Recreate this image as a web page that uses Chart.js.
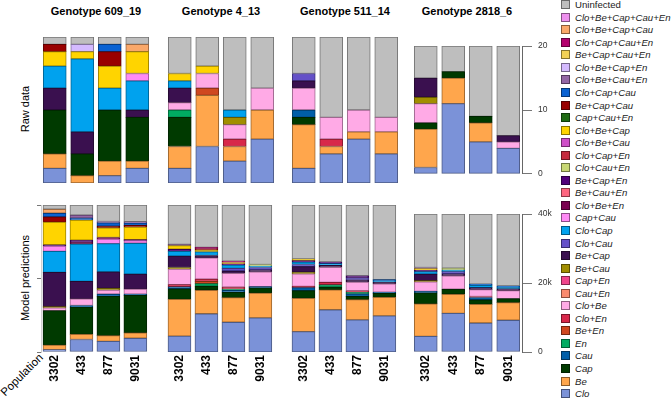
<!DOCTYPE html>
<html>
<head>
<meta charset="UTF-8">
<title>Raw data and model predictions</title>
<script src="https://cdn.jsdelivr.net/npm/chart.js"></script>
<style>
  body { margin: 0; background: #fff; font-family: 'Liberation Sans', Arial, sans-serif; }
  #wrap { position: relative; width: 671px; height: 398px; overflow: hidden; }
  #wrap canvas { position: absolute; }
  .title { position: absolute; top: 5px; width: 110px; text-align: center; font-weight: bold; font-size: 11px; line-height: 13px; white-space: nowrap; color: #000; }
  .rowlab { position: absolute; font-size: 11px; line-height: 13px; white-space: nowrap; color: #000; transform: translate(-50%, -50%) rotate(-90deg); }
  #pop { position: absolute; left: 22px; top: 375px; font-size: 11.5px; line-height: 13px; white-space: nowrap; transform: translate(-50%, -50%) rotate(-45deg); }
  #legend { position: absolute; left: 561px; top: -1.6px; }
  .item { height: 12.55px; display: flex; align-items: center; font-size: 9.6px; font-style: italic; white-space: nowrap; color: #222; }
  .item.plain { font-style: normal; }
  .sw { width: 7px; height: 7px; border: 1px solid; margin-right: 5px; flex: none; }
</style>
</head>
<body>
<div id="wrap">
  <div class="rowlab" style="left:25px; top:109px;">Raw data</div>
  <div class="rowlab" style="left:25px; top:278px;">Model predictions</div>
  <div id="pop">Population</div>
  <div id="legend"></div>
</div>

<script>
  // ---- data ----
  const genotypes = ['Genotype 609_19', 'Genotype 4_13', 'Genotype 511_14', 'Genotype 2818_6'];
  const populations = ['3302', '433', '877', '9031'];

  // legend order (top to bottom); bars stack in the reverse order
  const categories = [
    'Uninfected', 'Clo+Be+Cap+Cau+En', 'Clo+Be+Cap+Cau', 'Clo+Cap+Cau+En', 'Be+Cap+Cau+En',
    'Clo+Be+Cap+En', 'Clo+Be+Cau+En', 'Clo+Cap+Cau', 'Be+Cap+Cau', 'Cap+Cau+En',
    'Clo+Be+Cap', 'Clo+Be+Cau', 'Clo+Cap+En', 'Clo+Cau+En', 'Be+Cap+En', 'Be+Cau+En',
    'Clo+Be+En', 'Cap+Cau', 'Clo+Cap', 'Clo+Cau', 'Be+Cap', 'Be+Cau', 'Cap+En', 'Cau+En',
    'Clo+Be', 'Clo+En', 'Be+En', 'En', 'Cau', 'Cap', 'Be', 'Clo'
  ];
  const categoryColors = [
    '#BEBEBE', '#EE90EE', '#FAA86A', '#B4006E', '#F2D256',
    '#D4BAFF', '#9366A6', '#0A62D2', '#990000', '#1F6B14',
    '#FFD400', '#CF4FC8', '#C52A3E', '#C8D874', '#50007A', '#FF6680',
    '#7A0050', '#FF8AF5', '#00A2EE', '#6450C8', '#3A104F', '#A18E00', '#F0458C', '#FA8A6E',
    '#FFAAE6', '#D8284A', '#CF4820', '#00AC62', '#005EA8', '#003A00', '#FFA64C', '#7B92D8'
  ];

  const rawTickValues = [0, 10, 20];
  const rawTickLabels = ['0', '10', '20'];
  const predTickValues = [0, 20000, 40000];
  const predTickLabels = ['0', '20k', '40k'];

  // raw data: infected cells counted per population (out of 20)
  const raw_609_19 = [
    { Clo: 2, Be: 2, Cap: 6, 'Be+Cap': 3, 'Clo+Cap': 3, 'Clo+Be+Cap': 2, 'Be+Cap+Cau': 1, Uninfected: 1 },
    { Be: 1, Cap: 3, 'Be+Cap': 3, 'Clo+Cap': 10, 'Clo+Be+Cap': 1, 'Clo+Be+Cap+En': 1, Uninfected: 1 },
    { Clo: 1, Be: 2, Cap: 7, 'Clo+Cap': 3, 'Clo+Be+Cap': 3, 'Be+Cap+Cau': 2, 'Clo+Cap+Cau': 1, Uninfected: 1 },
    { Clo: 2, Be: 1, Cap: 6, 'Be+Cap': 1, 'Clo+Cap': 4, 'Cap+Cau': 1, 'Clo+Be+Cap': 3, 'Clo+Be+Cap+Cau': 1, Uninfected: 1 }
  ];
  const raw_4_13 = [
    { Clo: 2, Be: 3, Cap: 4, En: 1, 'Clo+Be': 1, 'Be+Cap': 2, 'Clo+Cap': 1, 'Clo+Be+Cap': 1, Uninfected: 5 },
    { Clo: 5, Be: 7, 'Be+En': 1, 'Clo+Be': 2, 'Clo+Be+Cap': 1, Uninfected: 4 },
    { Clo: 3, Be: 2, 'Clo+En': 1, 'Clo+Be': 2, 'Be+Cau': 1, 'Clo+Cap': 1, Uninfected: 10 },
    { Clo: 6, Be: 4, 'Clo+Be': 3, Uninfected: 7 }
  ];
  const raw_511_14 = [
    { Clo: 2, Be: 6, Cap: 1, Cau: 1, 'Clo+Be': 3, 'Be+Cap': 1, 'Clo+Cau': 1, Uninfected: 5 },
    { Clo: 4, Be: 1, 'Clo+En': 1, 'Clo+Be': 3, Uninfected: 11 },
    { Clo: 6, Be: 1, 'Clo+Be': 3, Uninfected: 10 },
    { Clo: 4, Be: 3, 'Clo+Be': 2, Uninfected: 11 }
  ];
  const raw_2818_6 = [
    { Clo: 1, Be: 6, Cap: 1, 'Clo+Be': 3, 'Be+Cau': 1, 'Be+Cap': 3, Uninfected: 5 },
    { Clo: 11, Be: 4, Cap: 1, Uninfected: 4 },
    { Clo: 5, Be: 3, Cap: 1, Uninfected: 11 },
    { Clo: 4, 'Clo+Be': 1, 'Be+Cap': 1, Uninfected: 14 }
  ];

  // model predictions (cells)
  const pred_609_19 = [
    { Clo: 650, Be: 1200, Cap: 9400, 'Clo+Be': 800, 'Be+Cau': 300, 'Be+Cap': 9300, 'Clo+Cap': 5750, 'Cap+Cau': 1400,
      'Be+Cap+En': 350, 'Clo+Be+Cap': 6200, 'Be+Cap+Cau': 1400, 'Clo+Cap+Cau': 1000, 'Clo+Be+Cap+Cau': 1100, Uninfected: 1150 },
    { Clo: 3400, Be: 1400, Cap: 7400, Cau: 450, 'Clo+Be': 1800, 'Be+Cap': 4750, 'Clo+Cap': 10200, 'Clo+Be+En': 500,
      'Be+Cap+En': 500, 'Clo+Be+Cap': 5500, 'Clo+Cap+Cau': 550, 'Clo+Be+Cau+En': 800, Uninfected: 2750 },
    { Clo: 2900, Be: 1550, Cap: 10700, Cau: 600, 'Clo+Be': 1100, 'Be+Cau': 450, 'Be+Cap': 4500, 'Clo+Cap': 7700, 'Cap+Cau': 1200,
      'Clo+Be+En': 450, 'Clo+Be+Cap': 2650, 'Be+Cap+Cau': 450, 'Clo+Cap+Cau': 900, 'Clo+Be+Cau+En': 350, Uninfected: 4500 },
    { Clo: 3750, Be: 1450, Cap: 10200, Cau: 350, 'Clo+Be': 1350, 'Be+Cap': 4100, 'Clo+Cap': 8400, 'Cap+Cau': 700,
      'Be+Cap+En': 300, 'Clo+Be+Cap': 3400, 'Be+Cap+Cau': 450, 'Clo+Cap+Cau': 650, 'Clo+Be+Cau+En': 350, Uninfected: 4550 }
  ];
  const pred_4_13 = [
    { Clo: 4300, Be: 10000, Cap: 2900, Cau: 550, 'Clo+En': 600, 'Clo+Be': 4200, 'Be+Cau': 450, 'Be+Cap': 3100, 'Clo+Cap': 1300,
      'Be+Cap+En': 550, 'Clo+Be+Cap': 1000, 'Clo+Be+Cau+En': 350, Uninfected: 10700 },
    { Clo: 10400, Be: 6400, Cap: 1100, En: 700, 'Be+En': 600, 'Clo+En': 650, 'Clo+Be': 5750, 'Be+Cap': 650, 'Clo+Cap': 1000,
      'Be+Cap+Cau': 400, 'Clo+Be+Cap': 450, 'Clo+Cap+Cau+En': 350, Uninfected: 11550 },
    { Clo: 8100, Be: 6700, Cap: 1450, Cau: 550, En: 300, 'Clo+En': 550, 'Clo+Be': 3750, 'Be+Cap': 650, 'Clo+Cau': 700, 'Clo+Cap': 900,
      'Be+Cap+En': 350, 'Clo+Be+Cap': 350, 'Clo+Cap+Cau+En': 350, Uninfected: 15300 },
    { Clo: 9300, Be: 6700, Cap: 1450, Cau: 350, 'Clo+Be': 4000, 'Be+Cap': 550, 'Clo+Cau': 650, 'Clo+Cap': 350,
      'Clo+Cau+En': 450, Uninfected: 16200 }
  ];
  const pred_511_14 = [
    { Clo: 5550, Be: 9050, Cap: 2100, Cau: 800, 'Clo+En': 350, 'Clo+Be': 3400, 'Be+Cau': 450, 'Be+Cap': 1550, 'Clo+Cau': 550,
      'Clo+Cap': 700, 'Be+Cap+En': 350, 'Clo+Be+Cap': 450, Uninfected: 14700 },
    { Clo: 11500, Be: 5400, Cap: 750, En: 650, 'Clo+En': 650, 'Clo+Be': 4100, 'Be+Cap': 550, 'Clo+Cap': 450,
      'Be+Cap+En': 450, Uninfected: 15500 },
    { Clo: 8750, Be: 5500, Cap: 900, Cau: 650, En: 500, 'Clo+En': 350, 'Clo+Be': 2400, 'Be+Cap': 550, 'Clo+Cau': 550,
      'Be+Cap+En': 550, Uninfected: 19300 },
    { Clo: 9850, Be: 5000, Cap: 1100, Cau: 300, 'Clo+Be': 2300, 'Be+Cap': 450, 'Clo+Cap': 350, 'Clo+Cap+Cau': 350, Uninfected: 20300 }
  ];
  const pred_2818_6 = [
    { Clo: 4550, Be: 9400, Cap: 3200, Cau: 450, 'Clo+Be': 2750, 'Be+Cau': 350, 'Be+Cap': 1900, 'Clo+Cap': 700,
      'Be+Cap+En': 450, 'Clo+Be+Cap': 450, 'Clo+Be+Cau+En': 300, Uninfected: 15500 },
    { Clo: 11200, Be: 5550, Cap: 1450, 'Clo+Be': 3900, 'Be+Cap': 550, 'Clo+Cau': 650, 'Clo+Cap': 450,
      'Clo+Cau+En': 550, Uninfected: 15700 },
    { Clo: 8400, Be: 5400, Cap: 1350, Cau: 650, 'Clo+En': 300, 'Clo+Be': 2000, 'Be+Cap': 550, 'Clo+Cap': 700,
      'Clo+Cap+Cau': 350, Uninfected: 20300 },
    { Clo: 9200, Be: 5100, Cap: 1200, 'Clo+Be': 2300, 'Be+Cap': 550, 'Clo+Cap': 450, 'Clo+Cap+Cau': 350, Uninfected: 20850 }
  ];

  const rawData = [raw_609_19, raw_4_13, raw_511_14, raw_2818_6];
  const predData = [pred_609_19, pred_4_13, pred_511_14, pred_2818_6];

  // ---- layout ----
  const wrap = document.getElementById('wrap');
  const panelLeft = [41, 166, 290, 412];
  const panelW = 110;
  const FONT = "'Liberation Sans', Arial, sans-serif";

  function darker(hex, f) {
    const n = parseInt(hex.slice(1), 16);
    const r = Math.round(((n >> 16) & 255) * f);
    const g = Math.round(((n >> 8) & 255) * f);
    const b = Math.round((n & 255) * f);
    return `rgb(${r},${g},${b})`;
  }

  const colorOf = {};
  categories.forEach((c, i) => colorOf[c] = categoryColors[i]);
  const stackOrder = categories.slice().reverse(); // first dataset = bottom of the bar

  // titles
  genotypes.forEach((g, i) => {
    const d = document.createElement('div');
    d.className = 'title';
    d.style.left = panelLeft[i] + 'px';
    d.textContent = g;
    wrap.appendChild(d);
  });

  // legend
  const legend = document.getElementById('legend');
  categories.forEach((c, i) => {
    const it = document.createElement('div');
    it.className = 'item' + (c === 'Uninfected' ? ' plain' : '');
    const sw = document.createElement('span');
    sw.className = 'sw';
    sw.style.background = categoryColors[i];
    sw.style.borderColor = darker(categoryColors[i], 0.55);
    it.appendChild(sw);
    it.appendChild(document.createTextNode(c));
    legend.appendChild(it);
  });

  function makePanel(row, col, bars) {
    const bottom = row === 1;
    const pad = 2;
    const areaTop = bottom ? 205 : 37;
    const areaH = bottom ? 147 : 146;
    const yMax = bottom ? 40000 : 20;
    const tickVals = bottom ? predTickValues : rawTickValues;
    const tickLabs = bottom ? predTickLabels : rawTickLabels;
    const leftW = (bottom && col === 0) ? 4 : 0;
    const rightW = col === 3 ? 30 : 0;
    const xH = bottom ? 36 : 0;

    const cv = document.createElement('canvas');
    const w = pad * 2 + leftW + panelW + rightW;
    const h = pad * 2 + areaH + xH;
    cv.width = w; cv.height = h;
    cv.style.width = w + 'px'; cv.style.height = h + 'px';
    cv.style.left = (panelLeft[col] - pad - leftW) + 'px';
    cv.style.top = (areaTop - pad) + 'px';
    wrap.appendChild(cv);

    const datasets = stackOrder.map(name => ({
      label: name,
      data: bars.map(b => (b[name] !== undefined ? b[name] : null)),
      backgroundColor: colorOf[name],
      borderColor: darker(colorOf[name], 0.62),
      borderWidth: 1,
      borderSkipped: false,
      barThickness: 23
    }));

    const showY = col === 3 || (bottom && col === 0);

    new Chart(cv.getContext('2d'), {
      type: 'bar',
      data: { labels: populations, datasets: datasets },
      options: {
        responsive: false,
        animation: false,
        events: [],
        layout: { padding: pad },
        plugins: { legend: { display: false }, tooltip: { enabled: false } },
        scales: {
          x: {
            stacked: true,
            display: bottom,
            grid: { display: false, drawTicks: false },
            border: { display: false },
            ticks: {
              minRotation: 90, maxRotation: 90, padding: 3, color: '#000',
              font: { family: FONT, size: 12, weight: 'bold' }
            },
            afterFit: s => { s.height = xH; }
          },
          y: {
            stacked: true,
            min: 0, max: yMax,
            display: showY,
            position: col === 3 ? 'right' : 'left',
            border: { display: true, color: col === 3 ? '#666' : '#d0d0d0', width: 1 },
            grid: { drawOnChartArea: false, drawTicks: true, tickLength: col === 3 ? 10 : 4, color: '#777' },
            afterBuildTicks: s => { s.ticks = (col === 3 ? tickVals : [0, 10000, 20000, 30000, 40000]).map(v => ({ value: v })); },
            ticks: {
              display: col === 3,
              padding: 6,
              color: '#333',
              font: { family: FONT, size: 8.5 },
              callback: v => tickLabs[tickVals.indexOf(v)]
            },
            afterFit: s => { s.width = col === 3 ? rightW : leftW; }
          }
        }
      }
    });
  }

  for (let c = 0; c < 4; c++) {
    makePanel(0, c, rawData[c]);
    makePanel(1, c, predData[c]);
  }
</script>
</body>
</html>
